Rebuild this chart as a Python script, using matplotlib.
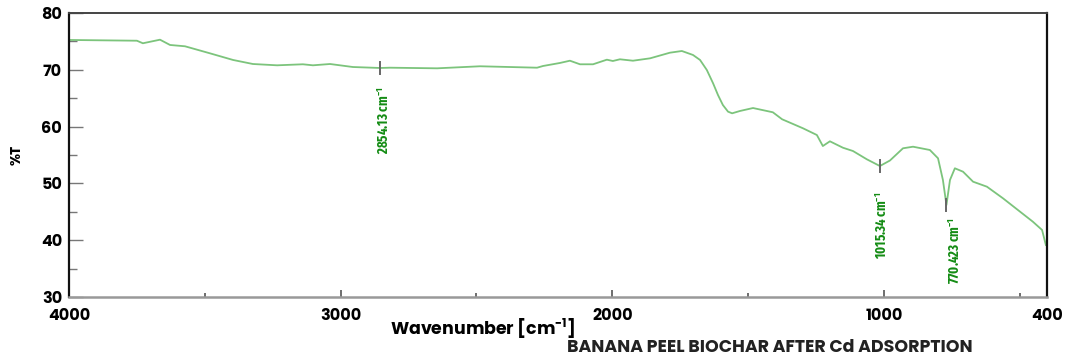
import matplotlib
matplotlib.use("Agg")
import matplotlib.pyplot as plt

# FTIR transmittance spectrum (wavenumber in cm-1, transmittance in %T)
wavenumber = [3996, 3750, 3728, 3665, 3628, 3573, 3481, 3396, 3323, 3234,
              3139, 3102, 3039, 2955, 2855, 2818, 2645, 2487, 2277, 2255,
              2193, 2156, 2119, 2071, 2020, 1998, 1972, 1924, 1861, 1788,
              1744, 1703, 1677, 1652, 1629, 1611, 1593, 1574, 1559, 1530,
              1482, 1409, 1375, 1298, 1247, 1225, 1199, 1151, 1114, 1063,
              1015, 978, 930, 893, 831, 801, 783, 770, 757, 739,
              709, 672, 621, 562, 499, 452, 418, 404]
transmittance = [75.25, 75.12, 74.67, 75.30, 74.37, 74.14, 72.90, 71.73, 71.02, 70.79,
                 70.97, 70.79, 71.02, 70.49, 70.32, 70.37, 70.26, 70.62, 70.37, 70.67,
                 71.20, 71.60, 70.97, 70.97, 71.78, 71.55, 71.85, 71.60, 72.02, 73.01,
                 73.31, 72.61, 71.73, 69.96, 67.62, 65.56, 63.80, 62.63, 62.34, 62.75,
                 63.27, 62.52, 61.29, 59.70, 58.52, 56.58, 57.41, 56.28, 55.70, 54.24,
                 53.06, 54.03, 56.18, 56.46, 55.88, 54.42, 50.60, 46.20, 50.60, 52.66,
                 52.06, 50.30, 49.42, 47.38, 45.02, 43.26, 41.80, 39.15]

# Labelled absorption bands
peak_positions = [2854.13, 1015.34, 770.423]
peak_labels = ["2854.13", "1015.34", "770.423"]
peak_values = [70.32, 53.06, 46.20]
label_tops = [67.0, 48.6, 44.0]
label_shift = [12, 8, 30]

x_major = [4000, 3000, 2000, 1000, 400]
x_minor = [3500, 2500, 1500, 500]
y_major = [30, 40, 50, 60, 70, 80]
y_minor = [35, 45, 55, 65, 75]

WIDE = ["Poppins", "DejaVu Sans"]
NARROW = ["Fira Sans Extra Condensed", "Pragati Narrow", "Liberation Sans Narrow",
          "DejaVu Sans"]

fig = plt.figure(figsize=(10.68, 3.58), dpi=100)
ax = fig.add_axes([0.0646, 0.1704, 0.9157, 0.7933])

ax.plot(wavenumber, transmittance, color="#7cc47c", lw=1.3, solid_joinstyle="round")

ax.set_xlim(4000, 400)
ax.set_ylim(30, 80)

# Peak markers and rotated labels
for pos, lab, val, top, dx in zip(peak_positions, peak_labels, peak_values,
                                  label_tops, label_shift):
    ax.plot([pos, pos], [val - 1.1, val + 1.1], color="#666666", lw=1.4)
    ax.text(pos - dx, top, lab + r" cm$\mathregular{^{-1}}$", rotation=90,
            ha="center", va="top", color="#148c14", fontsize=10,
            family=NARROW, fontweight="bold")

ax.set_xticks(x_major)
ax.set_xticks(x_minor, minor=True)
ax.set_yticks(y_major)
ax.set_yticks(y_minor, minor=True)
ax.set_xticklabels([str(v) for v in x_major], fontsize=11.5, fontweight="bold",
                   family=WIDE)
ax.set_yticklabels([str(v) for v in y_major], fontsize=11.5, fontweight="bold",
                   family=WIDE)

ax.tick_params(axis="y", which="major", direction="in", length=10, width=1.0,
               color="#777777", pad=5)
ax.tick_params(axis="y", which="minor", direction="in", length=6, width=1.0,
               color="#777777")
ax.tick_params(axis="x", which="major", direction="in", length=5, width=1.2,
               color="#555555", pad=8)
ax.tick_params(axis="x", which="minor", direction="in", length=3, width=1.2,
               color="#555555")

ax.spines["left"].set_color("#111111")
ax.spines["left"].set_linewidth(1.6)
ax.spines["right"].set_color("#111111")
ax.spines["right"].set_linewidth(1.6)
ax.spines["top"].set_color("#444444")
ax.spines["top"].set_linewidth(1.4)
ax.spines["bottom"].set_color("#999999")
ax.spines["bottom"].set_linewidth(1.8)

ax.set_ylabel("%T", fontsize=10, fontweight="bold", family=WIDE, labelpad=12)
ax.set_xlabel(r"Wavenumber [cm$\mathregular{^{-1}}$]", fontsize=12.5,
              fontweight="bold", family=WIDE, labelpad=1)
ax.xaxis.set_label_coords(0.4225, -0.07)

fig.text(0.721, 0.027, "BANANA PEEL BIOCHAR AFTER Cd ADSORPTION",
         ha="center", va="center", fontsize=12.5, fontweight="bold",
         family=WIDE, color="#222222")

fig.savefig("out.png", dpi=100)
